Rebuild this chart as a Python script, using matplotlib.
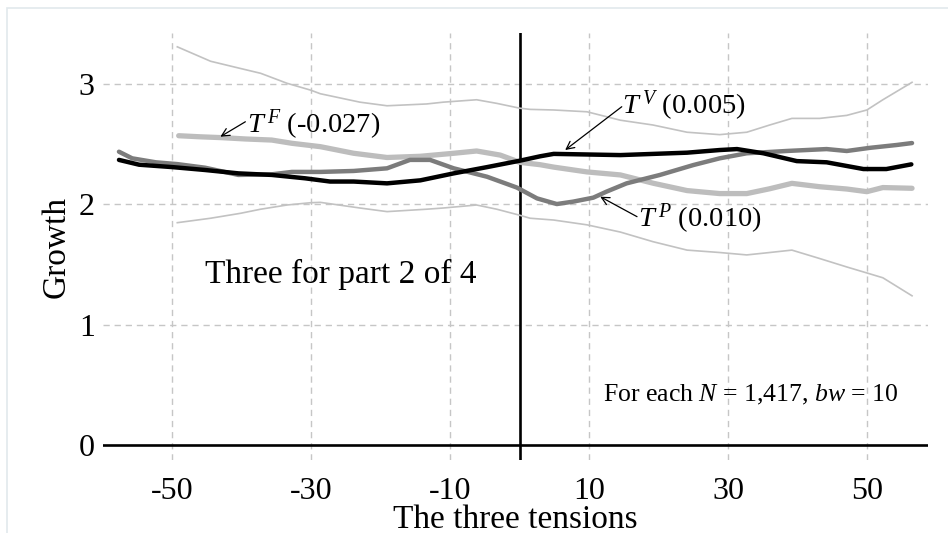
import matplotlib
matplotlib.use("Agg")
import matplotlib.pyplot as plt
from matplotlib.patches import Rectangle

plt.rcParams["font.family"] = ["Liberation Serif", "DejaVu Serif"]
plt.rcParams["mathtext.fontset"] = "custom"
plt.rcParams["mathtext.rm"] = "Liberation Serif"
plt.rcParams["mathtext.it"] = "Liberation Serif:italic"

# T^F estimate with its confidence band
x_f = [-49.1, -46.0, -42.9, -39.5, -35.7, -32.8, -28.7, -23.9, -19.1, -14.3, -9.5, -6.2,
       -2.8, 0.0, 2.95, 4.9, 9.7, 14.5, 19.3, 24.1, 26.9, 28.8, 32.7, 36.0, 39.2, 43.2,
       47.1, 50.0, 52.3, 56.5]
y_f = [2.571, 2.562, 2.555, 2.544, 2.535, 2.508, 2.48, 2.425, 2.39, 2.40, 2.425, 2.444,
       2.41, 2.35, 2.33, 2.31, 2.27, 2.245, 2.175, 2.115, 2.10, 2.09, 2.09, 2.13, 2.175,
       2.147, 2.128, 2.106, 2.14, 2.134]

x_ci = [-49.3, -44.5, -40.2, -37.3, -33.5, -30.1, -28.7, -23.0, -19.1, -13.4, -11.0, -6.2,
        -3.3, 0.0, 1.5, 4.9, 9.7, 14.5, 19.2, 24.1, 28.8, 32.7, 36.0, 39.2, 43.2, 47.1,
        50.0, 52.3, 56.5]
y_ci_hi = [3.31, 3.19, 3.13, 3.09, 3.007, 2.95, 2.92, 2.85, 2.82, 2.835, 2.85, 2.87,
           2.84, 2.80, 2.79, 2.785, 2.77, 2.70, 2.66, 2.60, 2.58, 2.60, 2.66, 2.715,
           2.715, 2.74, 2.785, 2.87, 3.015]
y_ci_lo = [1.848, 1.885, 1.926, 1.96, 1.995, 2.014, 2.017, 1.97, 1.94, 1.96, 1.97, 1.995,
           1.96, 1.91, 1.885, 1.87, 1.83, 1.77, 1.69, 1.62, 1.60, 1.58, 1.60, 1.62, 1.55,
           1.48, 1.43, 1.39, 1.24]

# T^P estimate
x_p = [-57.7, -55.8, -52.4, -49.3, -45.3, -40.5, -35.7, -32.8, -28.7, -23.9, -19.1, -15.8,
       -12.9, -9.5, -4.7, -0.4, 2.5, 5.35, 7.7, 10.6, 12.5, 15.4, 20.2, 25.0, 28.8, 32.7,
       38.4, 44.2, 47.1, 50.4, 54.3, 56.5]
y_p = [2.438, 2.383, 2.35, 2.335, 2.305, 2.245, 2.25, 2.27, 2.27, 2.278, 2.30, 2.37,
       2.37, 2.30, 2.23, 2.14, 2.05, 2.003, 2.023, 2.056, 2.106, 2.175, 2.245, 2.327,
       2.383, 2.425, 2.444, 2.46, 2.444, 2.47, 2.494, 2.51]

# T^V estimate
x_v = [-57.7, -54.8, -50.0, -45.3, -40.5, -35.7, -30.9, -27.3, -23.9, -19.1, -14.3, -9.5,
       -4.7, 0.0, 2.95, 4.9, 14.5, 24.1, 28.8, 31.3, 35.1, 39.9, 44.2, 49.5, 52.8, 56.4]
y_v = [2.37, 2.33, 2.31, 2.286, 2.258, 2.245, 2.217, 2.19, 2.19, 2.175, 2.20, 2.258,
       2.31, 2.363, 2.40, 2.42, 2.41, 2.43, 2.452, 2.46, 2.425, 2.36, 2.35, 2.294,
       2.294, 2.333]

x_ticks = [-50, -30, -10, 10, 30, 50]
y_ticks = [0, 1, 2, 3]

W, H = 948, 533
fig = plt.figure(figsize=(W / 100, H / 100), dpi=100)
ax = fig.add_axes([103 / W, 1 - 460 / H, (928 - 103) / W, (460 - 33) / H])

ax.set_xlim(-60, 58.8)
ax.set_ylim(-0.125, 3.425)

grid_kw = dict(color="#c6c6c6", lw=1.0, dashes=(4.5, 3.5), zorder=0)
for xv in x_ticks:
    ax.axvline(xv, **grid_kw)
for yv in y_ticks[1:]:
    ax.axhline(yv, **grid_kw)

ax.axhline(0, color="black", lw=1.9, zorder=1)
ax.axvline(0, color="black", lw=1.9, zorder=1)

ax.plot(x_ci, y_ci_hi, color="#c2c2c2", lw=1.2, zorder=2)
ax.plot(x_ci, y_ci_lo, color="#c2c2c2", lw=1.2, zorder=2)
ax.plot(x_f, y_f, color="#bdbdbd", lw=3.8, zorder=3, solid_capstyle="round")
ax.plot(x_p, y_p, color="#7c7c7c", lw=3.2, zorder=4, solid_capstyle="round")
ax.plot(x_v, y_v, color="black", lw=3.2, zorder=5, solid_capstyle="round")

arrow_kw = dict(arrowstyle="->", color="black", lw=0.9, shrinkA=0, shrinkB=0,
                mutation_scale=14)
ax.annotate("", xy=(-43.1, 2.563), xytext=(-39.5, 2.687), arrowprops=arrow_kw, zorder=6)
ax.text(-39.3, 2.594, r"$T^{\,F}$ (-0.027)", fontsize=20.5, ha="left", va="baseline",
        zorder=6)

ax.annotate("", xy=(6.55, 2.452), xytext=(14.7, 2.812), arrowprops=arrow_kw, zorder=6)
ax.text(14.7, 2.757, r"$T^{\,V}$ (0.005)", fontsize=20.5, ha="left", va="baseline",
        zorder=6)

ax.annotate("", xy=(11.6, 2.064), xytext=(16.9, 1.898), arrowprops=arrow_kw, zorder=6)
ax.text(17.1, 1.815, r"$T^{\,P}$ (0.010)", fontsize=20.5, ha="left", va="baseline",
        zorder=6)

ax.text(-45.25, 1.349, "Three for part 2 of 4", fontsize=24, ha="left", va="baseline")
ax.text(12.0, 0.36, r"For each $N$ = 1,417, $bw$ = 10", fontsize=18.5, ha="left",
        va="baseline")

ax.set_xticks(x_ticks)
ax.set_xticklabels([str(v) for v in x_ticks])
ax.set_yticks(y_ticks)
ax.set_yticklabels([str(v) for v in y_ticks])
ax.tick_params(axis="both", length=0, labelsize=23)
ax.tick_params(axis="x", pad=12)
ax.tick_params(axis="y", pad=6)
for s in ax.spines.values():
    s.set_visible(False)

ax.set_xlabel("The three tensions", fontsize=24, labelpad=-1)
ax.set_ylabel("Growth", fontsize=24, labelpad=5)

fig.patches.append(Rectangle((7 / W, -0.1), 1.2, 1.1 - 8 / H, transform=fig.transFigure,
                             fill=False, edgecolor="#e2e9ec", lw=1.2))

fig.savefig("out.png", dpi=100)
